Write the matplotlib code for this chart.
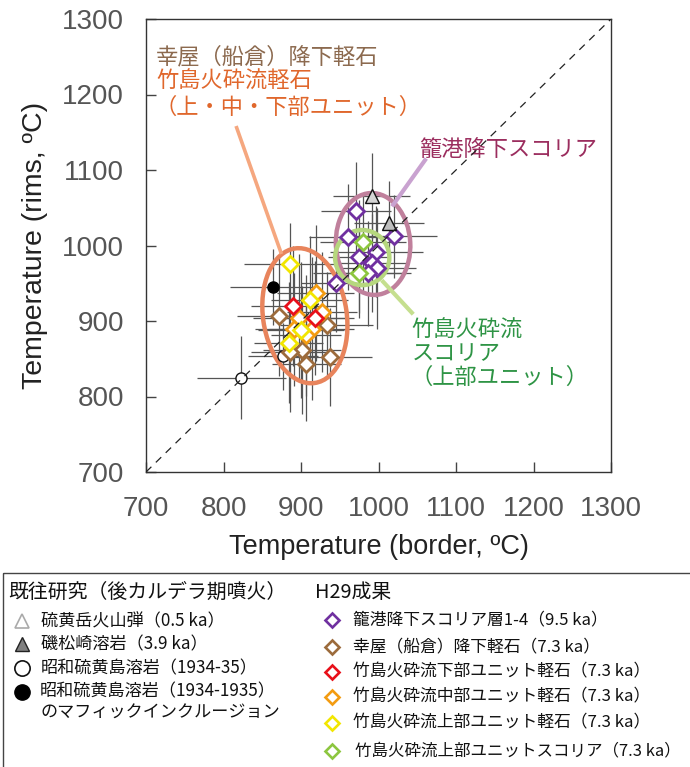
import matplotlib
matplotlib.use("Agg")
import matplotlib.pyplot as plt
from matplotlib.patches import Ellipse, Rectangle

# ---- data (deg C) ----
# 既往研究
tri1_x, tri1_y, tri1_xerr, tri1_yerr = [991], [1066], [50], [57]
tri2_x, tri2_y, tri2_xerr, tri2_yerr = [1014], [1030], [45], [55]
open_x = [823, 877]
open_y = [825, 853]
open_xerr = [57, 45]
open_yerr = [55, 45]
black_x, black_y, black_xerr, black_yerr = [864], [945], [55], [50]

# H29成果
purple_x = [971, 960, 1020, 975, 997, 991, 998, 987, 945]
purple_y = [1046, 1011, 1012, 985, 992, 977, 970, 963, 950]
purple_xerr = [45, 50, 55, 40, 60, 45, 50, 55, 45]
purple_yerr = [65, 70, 55, 75, 60, 65, 80, 70, 65]

brown_x = [872, 933, 901, 907, 937, 886]
brown_y = [907, 895, 862, 843, 852, 859]
brown_xerr = [55, 60, 50, 45, 55, 50]
brown_yerr = [80, 70, 85, 75, 65, 80]

red_x = [890, 918]
red_y = [920, 904]
red_xerr = [55, 50]
red_yerr = [80, 75]

orange_x = [919, 927, 898, 914, 891, 906]
orange_y = [937, 912, 904, 890, 889, 881]
orange_xerr = [50, 45, 60, 55, 50, 45]
orange_yerr = [90, 80, 85, 95, 75, 80]

yellow_x = [886, 911, 900, 884]
yellow_y = [975, 928, 888, 871]
yellow_xerr = [60, 50, 55, 45]
yellow_yerr = [55, 85, 90, 80]

green_x = [980, 975]
green_y = [1004, 964]
green_xerr = [55, 60]
green_yerr = [65, 60]

ticks = [700, 800, 900, 1000, 1100, 1200, 1300]

left_labels = ['硫黄岳火山弾（0.5 ka）', '磯松崎溶岩（3.9 ka）',
               '昭和硫黄島溶岩（1934-35）',
               '昭和硫黄島溶岩（1934-1935）\nのマフィックインクルージョン']
right_labels = ['籠港降下スコリア層1-4（9.5 ka）', '幸屋（船倉）降下軽石（7.3 ka）',
                '竹島火砕流下部ユニット軽石（7.3 ka）', '竹島火砕流中部ユニット軽石（7.3 ka）',
                '竹島火砕流上部ユニット軽石（7.3 ka）', '竹島火砕流上部ユニットスコリア（7.3 ka）']

c_purple = '#7030a0'
c_brown = '#9c6b3c'
c_red = '#e8101a'
c_orange = '#f39c12'
c_yellow = '#f2e600'
c_green = '#8dc63f'

jp = ['Noto Sans CJK JP', 'DejaVu Sans']
plt.rcParams['font.family'] = jp

fig = plt.figure(figsize=(6.9, 7.67), dpi=100)
ax = fig.add_axes([146 / 690, 1 - 472 / 767, 465 / 690, 453 / 767])

eb = dict(fmt='none', ecolor='#555555', elinewidth=0.9, capsize=0, zorder=2)
for xs, ys, xe, ye in [(tri1_x, tri1_y, tri1_xerr, tri1_yerr), (tri2_x, tri2_y, tri2_xerr, tri2_yerr),
                       (open_x, open_y, open_xerr, open_yerr), (black_x, black_y, black_xerr, black_yerr),
                       (purple_x, purple_y, purple_xerr, purple_yerr), (brown_x, brown_y, brown_xerr, brown_yerr),
                       (red_x, red_y, red_xerr, red_yerr), (orange_x, orange_y, orange_xerr, orange_yerr),
                       (yellow_x, yellow_y, yellow_xerr, yellow_yerr), (green_x, green_y, green_xerr, green_yerr)]:
    ax.errorbar(xs, ys, xerr=xe, yerr=ye, **eb)

# grouping ellipses
ax.add_patch(Ellipse((905, 907), 108, 180, angle=8, fill=False, ec='#e8845c', lw=3.2, zorder=3))
ax.add_patch(Ellipse((993, 1002), 96, 135, angle=3, fill=False, ec='#c0809c', lw=3.2, zorder=3))
ax.add_patch(Ellipse((979, 984), 70, 73, fill=False, ec='#b6d77e', lw=3.2, zorder=3))

# leader lines
ax.plot([817, 874], [1156, 991], color='#f5a77f', lw=2.6, zorder=3)
ax.plot([1060, 1019], [1113, 1054], color='#c9a2d0', lw=3, zorder=3)
ax.plot([1006, 1043], [952, 911], color='#c5df8f', lw=3, zorder=3)

dk = dict(ls='none', marker='D', ms=8.6, mew=2.0, mfc='white', zorder=5)
ax.plot(brown_x, brown_y, mec=c_brown, **dk)
ax.plot(orange_x, orange_y, mec=c_orange, **dk)
ax.plot(red_x, red_y, mec=c_red, **dk)
ax.plot(yellow_x, yellow_y, mec=c_yellow, **dk)
ax.plot(purple_x, purple_y, mec=c_purple, **dk)
ax.plot(green_x, green_y, mec=c_green, **dk)

ax.plot(tri1_x, tri1_y, ls='none', marker='^', ms=9.5, mfc='#d4d4d4', mec='#111111', mew=1, zorder=5)
ax.plot(tri2_x, tri2_y, ls='none', marker='^', ms=9.5, mfc='#bdbdbd', mec='#111111', mew=1, zorder=5)
ax.plot(open_x, open_y, ls='none', marker='o', ms=8, mfc='white', mec='#111111', mew=1, zorder=4)
ax.plot(black_x, black_y, ls='none', marker='o', ms=8, mfc='black', mec='black', zorder=5)

ax.plot([700, 1300], [700, 1300], color='#222222', lw=0.9, dashes=(6, 5), zorder=6)

# annotations
ax.text(713, 1250, '幸屋（船倉）降下軽石', color='#8c6a4f', fontsize=16, va='center', ha='left')
ax.text(713, 1217, '竹島火砕流軽石', color='#e0672c', fontsize=16, va='center', ha='left')
ax.text(711, 1183, '（上・中・下部ユニット）', color='#e0672c', fontsize=16, va='center', ha='left')
ax.text(1053, 1127, '籠港降下スコリア', color='#9b2d5e', fontsize=16, va='center', ha='left')
ax.text(1043, 888, '竹島火砕流', color='#2e9445', fontsize=16, va='center', ha='left')
ax.text(1043, 857, 'スコリア', color='#2e9445', fontsize=16, va='center', ha='left')
ax.text(1041, 826, '（上部ユニット）', color='#2e9445', fontsize=16, va='center', ha='left')

ax.set_xlim(700, 1300)
ax.set_ylim(700, 1300)
ax.set_xticks(ticks)
ax.set_yticks(ticks)
num = ['Liberation Sans', 'DejaVu Sans']
for lab in ax.get_xticklabels() + ax.get_yticklabels():
    lab.set_fontfamily(num)
ax.tick_params(direction='in', length=7, width=1, color='#444444', labelcolor='#555555',
               labelsize=20)
ax.tick_params(axis='x', pad=17)
ax.tick_params(axis='y', pad=16)
for s in ax.spines.values():
    s.set_color('#333333')
    s.set_linewidth(1.0)
ax.set_xlabel('Temperature (border, ºC)', fontsize=19.5, color='#222222', family=num, labelpad=9)
ax.set_ylabel('Temperature (rims, ºC)', fontsize=20.5, color='#222222', family=num, labelpad=10)

# legend panel (pixel coordinates of the bottom band)
lg = fig.add_axes([0, 0, 1, 200 / 767])
lg.set_xlim(0, 690)
lg.set_ylim(767, 567)
lg.axis('off')
lg.add_patch(Rectangle((3, 573), 720, 220, fill=False, ec='#444444', lw=1.0))

lg.text(8, 592, '既往研究（後カルデラ期噴火）', fontsize=14.3, va='center', color='#111111')
lg.text(315, 592, 'H29成果', fontsize=14.3, va='center', color='#111111')

left_y = [621, 644, 668, 692]
lg.plot([22], [left_y[0]], marker='^', ms=10, mfc='white', mec='#aaaaaa', mew=1.2, ls='none')
lg.plot([22], [left_y[1]], marker='^', ms=10, mfc='#808080', mec='#222222', mew=1.0, ls='none')
lg.plot([22], [left_y[2]], marker='o', ms=11, mfc='white', mec='#111111', mew=1.2, ls='none')
lg.plot([22], [left_y[3]], marker='o', ms=11, mfc='black', mec='black', ls='none')
for i, t in enumerate(left_labels):
    if '\n' in t:
        lg.text(40, left_y[i] - 10, t, fontsize=12.3, va='top', color='#111111', linespacing=1.25)
    else:
        lg.text(41, left_y[i], t, fontsize=12.3, va='center', color='#111111')

right_y = [620, 647, 672, 697, 723, 751]
right_c = [c_purple, c_brown, c_red, c_orange, c_yellow, c_green]
for i, t in enumerate(right_labels):
    lg.plot([332], [right_y[i]], marker='D', ms=7.5, mfc='white', mec=right_c[i], mew=1.9, ls='none')
    lg.text(353 if i < 5 else 355, right_y[i], t, fontsize=12.1 if i < 5 else 11.9,
            va='center', color='#111111')

fig.savefig('out.png', dpi=100)
